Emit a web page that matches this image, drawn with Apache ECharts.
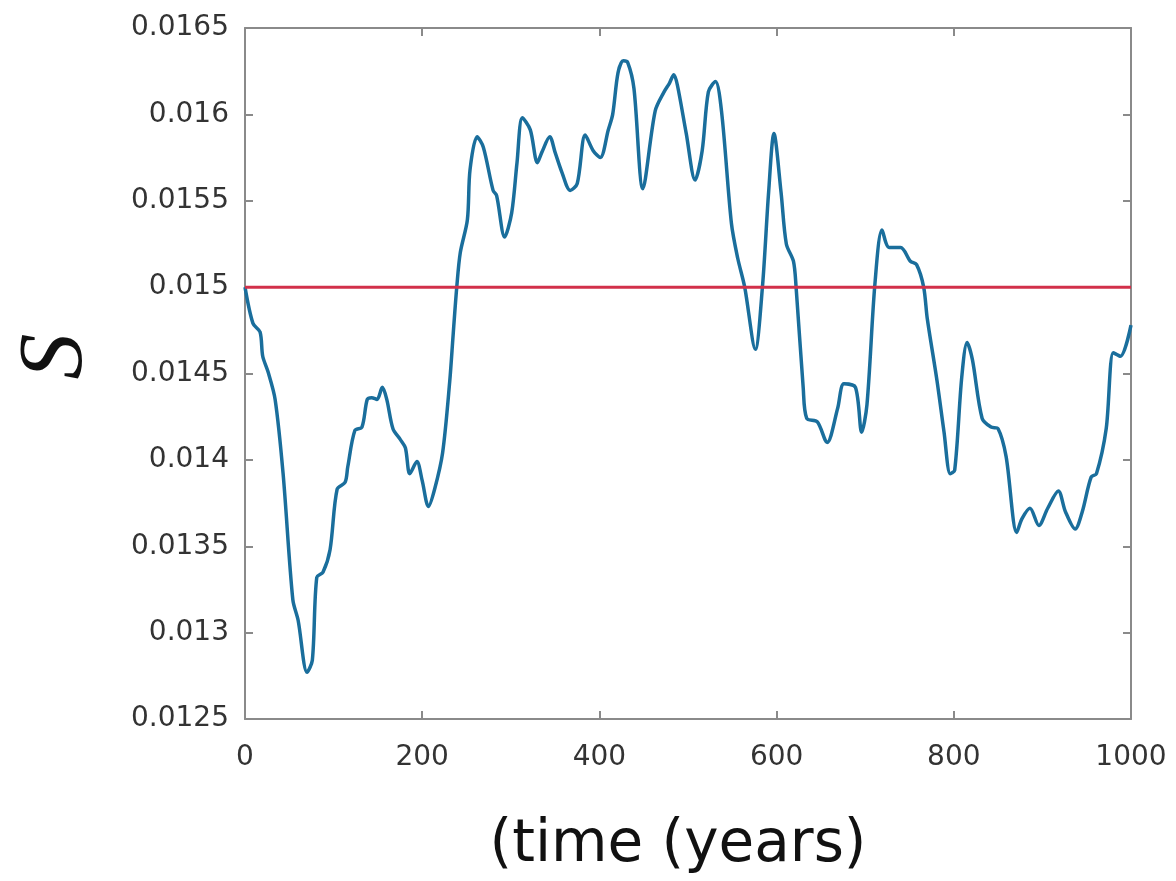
<!DOCTYPE html>
<html>
<head>
<meta charset="utf-8">
<script src="https://cdn.jsdelivr.net/npm/echarts@6/dist/echarts.min.js"></script>
<style>
  html, body { margin: 0; padding: 0; background: #fff; }
  #main { width: 1176px; height: 881px; }
</style>
</head>
<body>
<div id="main"></div>
<script>
// values
var years = [0, 9, 17, 20, 26, 34, 43, 54, 60, 70, 76, 81, 88, 96, 104, 113, 116, 124, 132, 138,
  143, 149, 155, 160, 167, 175, 181, 186, 194, 200, 207, 214, 223, 231, 235, 239, 243, 251, 254, 262,
  269, 280, 284, 293, 301, 307, 313, 322, 330, 335, 344, 350, 358, 367, 375, 384, 393, 401, 410, 415,
  421, 427, 432, 439, 449, 463, 473, 479, 484, 488, 498, 508, 516, 523, 531, 538, 549, 556, 564, 576,
  584, 591, 597, 605, 611, 619, 622, 630, 634, 646, 657, 669, 676, 689, 696, 702, 711, 719, 727, 740,
  751, 758, 766, 770, 781, 789, 796, 801, 809, 815, 821, 832, 842, 850, 859, 871, 877, 886, 896, 906,
  918, 926, 937, 945, 955, 961, 972, 980, 988, 1000];
var sValues = [0.01500, 0.01479, 0.01474, 0.01460, 0.01451, 0.01435, 0.01392, 0.01319, 0.01307, 0.01277,
  0.01284, 0.01332, 0.01335, 0.01348, 0.01383, 0.01387, 0.01396, 0.01417, 0.01419, 0.01435,
  0.01436, 0.01435, 0.01442, 0.01435, 0.01418, 0.01412, 0.01407, 0.01392, 0.01399, 0.01388,
  0.01373, 0.01383, 0.01404, 0.01445, 0.01473, 0.01500, 0.01520, 0.01539, 0.01568, 0.01587,
  0.01581, 0.01556, 0.01553, 0.01529, 0.01543, 0.01572, 0.01598, 0.01591, 0.01572, 0.01578,
  0.01587, 0.01578, 0.01566, 0.01556, 0.01560, 0.01588, 0.01579, 0.01575, 0.01591, 0.01600,
  0.01624, 0.01631, 0.01630, 0.01615, 0.01557, 0.01602, 0.01613, 0.01618, 0.01623, 0.01617,
  0.01589, 0.01562, 0.01579, 0.01613, 0.01619, 0.01601, 0.01537, 0.01517, 0.01500, 0.01464,
  0.01500, 0.01555, 0.01589, 0.01555, 0.01525, 0.01515, 0.01500, 0.01442, 0.01424, 0.01422,
  0.01410, 0.01430, 0.01444, 0.01442, 0.01416, 0.01432, 0.01502, 0.01533, 0.01523, 0.01523,
  0.01515, 0.01513, 0.01500, 0.01482, 0.01446, 0.01416, 0.01392, 0.01394, 0.01448, 0.01468,
  0.01458, 0.01424, 0.01419, 0.01418, 0.01402, 0.01358, 0.01366, 0.01372, 0.01362, 0.01372,
  0.01382, 0.01370, 0.01360, 0.01370, 0.01390, 0.01392, 0.01418, 0.01462, 0.01460, 0.01478];
var refYears = [0, 1000];
var refValues = [0.015, 0.015];

var xTicks = { min: 0, max: 1000, step: 200 };
var yTicks = { min: 0.0125, max: 0.0165, step: 0.0005 };

var frameColor = '#8a8a8a';
var labelFont = { color: '#333', fontSize: 28, fontFamily: 'DejaVu Sans' };

function pairs(xs, ys) {
  return xs.map(function (x, i) { return [x, ys[i]]; });
}

var chart = echarts.init(document.getElementById('main'));

var option = {
  backgroundColor: '#fff',
  animation: false,
  grid: {
    left: 245, right: 45, top: 28, bottom: 162,
    containLabel: false, outerBoundsMode: 'none'
  },
  xAxis: [
    {
      type: 'value',
      min: xTicks.min, max: xTicks.max, interval: xTicks.step,
      position: 'bottom',
      name: '(time (years)',
      nameLocation: 'middle',
      nameGap: 98,
      nameTextStyle: {
        color: '#111', fontSize: 58, fontFamily: 'DejaVu Sans', padding: [0, 20, 0, 0]
      },
      axisLine: { onZero: false, lineStyle: { color: frameColor, width: 2 } },
      axisTick: { inside: true, length: 8, lineStyle: { color: frameColor, width: 2 } },
      axisLabel: Object.assign({
        margin: 25,
        formatter: function (v) { return String(v); }
      }, labelFont),
      splitLine: { show: false }
    },
    {
      type: 'value',
      min: xTicks.min, max: xTicks.max, interval: xTicks.step,
      position: 'top',
      axisLine: { onZero: false, lineStyle: { color: frameColor, width: 2 } },
      axisTick: { inside: true, length: 8, lineStyle: { color: frameColor, width: 2 } },
      axisLabel: { show: false },
      splitLine: { show: false }
    }
  ],
  yAxis: [
    {
      type: 'value',
      min: yTicks.min, max: yTicks.max, interval: yTicks.step,
      position: 'left',
      name: 'S',
      nameLocation: 'middle',
      nameRotate: 90,
      nameGap: 142,
      nameTextStyle: {
        color: '#111', fontSize: 92, fontStyle: 'italic',
        fontFamily: 'Liberation Serif', padding: [0, 0, 0, 34]
      },
      axisLine: { onZero: false, lineStyle: { color: frameColor, width: 2 } },
      axisTick: { inside: true, length: 8, lineStyle: { color: frameColor, width: 2 } },
      axisLabel: Object.assign({
        margin: 16,
        formatter: function (v) { return String(parseFloat(v.toFixed(4))); }
      }, labelFont),
      splitLine: { show: false }
    },
    {
      type: 'value',
      min: yTicks.min, max: yTicks.max, interval: yTicks.step,
      position: 'right',
      axisLine: { onZero: false, lineStyle: { color: frameColor, width: 2 } },
      axisTick: { inside: true, length: 8, lineStyle: { color: frameColor, width: 2 } },
      axisLabel: { show: false },
      splitLine: { show: false }
    }
  ],
  series: [
    {
      name: 'S',
      type: 'line',
      data: pairs(years, sValues),
      smooth: 0.3,
      symbol: 'none',
      lineStyle: { color: '#1a6e9c', width: 3.5 },
      z: 3
    },
    {
      name: 'reference',
      type: 'line',
      data: pairs(refYears, refValues),
      symbol: 'none',
      lineStyle: { color: '#d2304a', width: 3 },
      z: 4
    }
  ]
};

chart.setOption(option);
</script>
</body>
</html>
